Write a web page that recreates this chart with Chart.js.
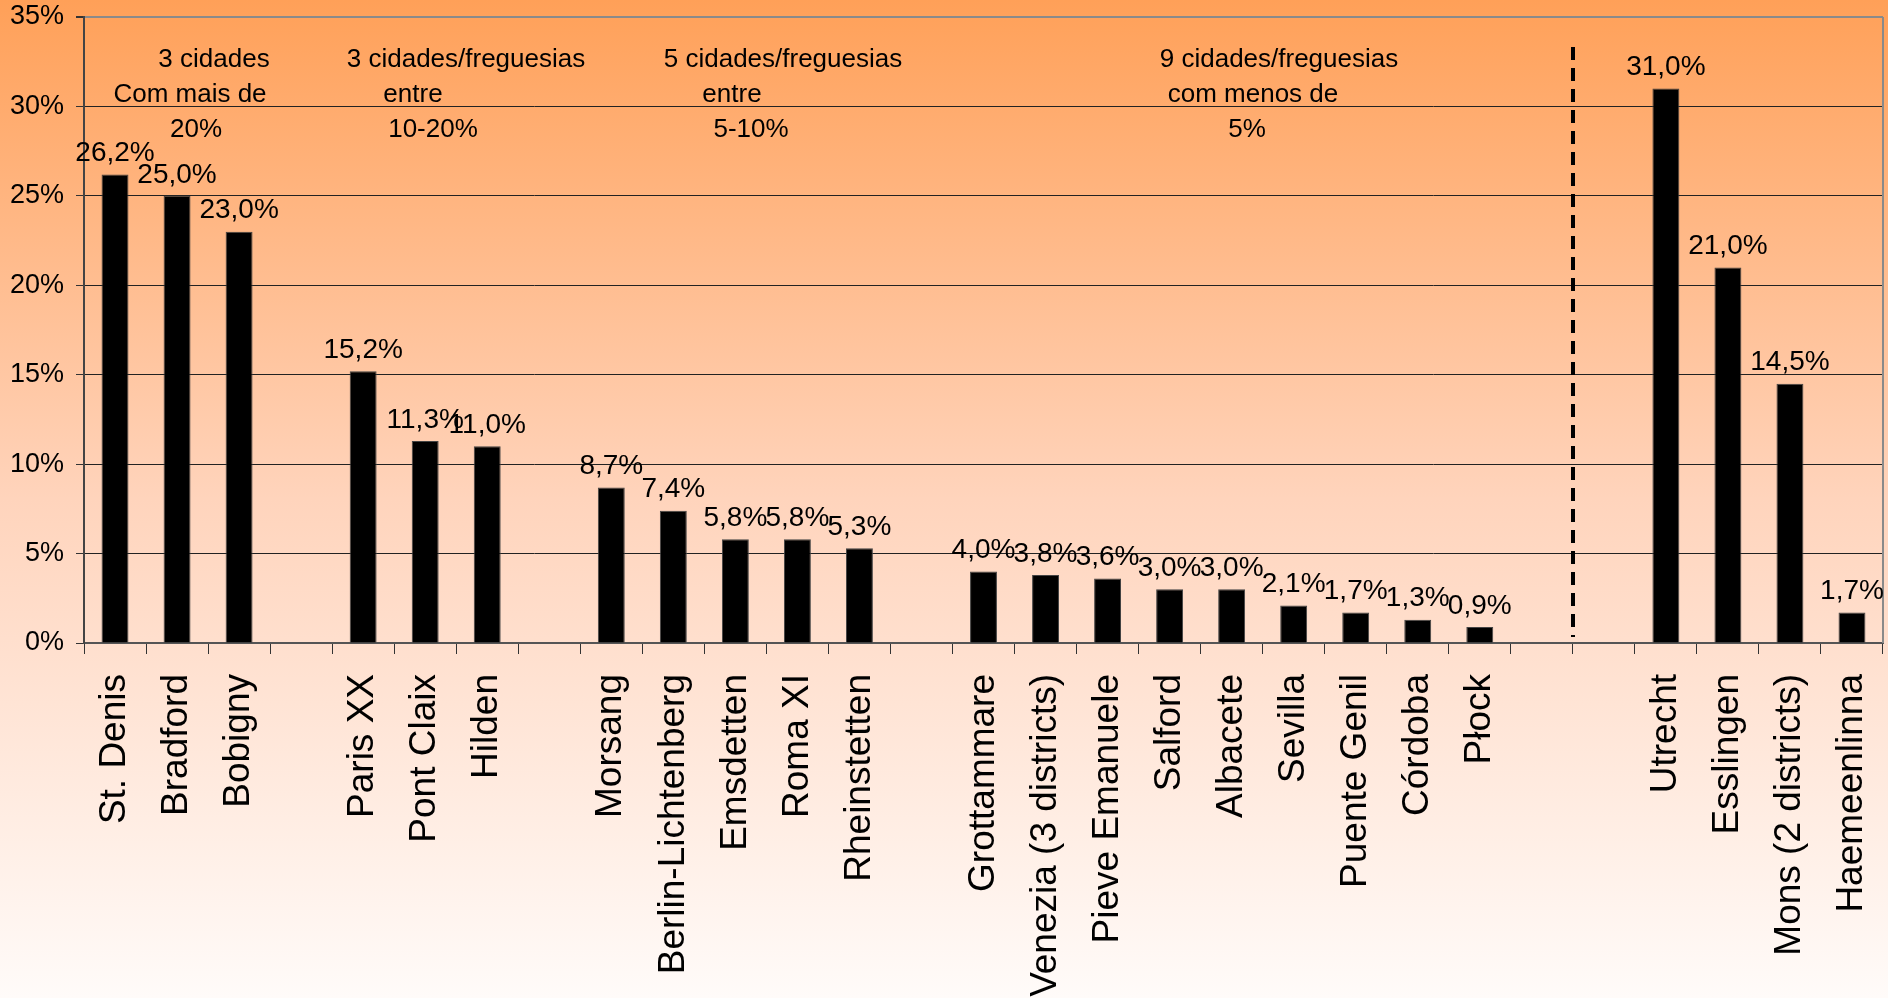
<!DOCTYPE html>
<html>
<head>
<meta charset="utf-8">
<title>Cidades / freguesias</title>
<script src="https://cdn.jsdelivr.net/npm/chart.js@4"></script>
<style>
  html, body { margin: 0; padding: 0; background: #fff; }
  #wrap { width: 1888px; height: 998px; position: relative; }
</style>
</head>
<body>
<div id="wrap"><canvas id="chart"></canvas></div>
<script>
// Data
const categories = ['St. Denis', 'Bradford', 'Bobigny', '', 'Paris XX', 'Pont Claix', 'Hilden', '',
  'Morsang', 'Berlin-Lichtenberg', 'Emsdetten', 'Roma XI', 'Rheinstetten', '',
  'Grottammare', 'Venezia (3 districts)', 'Pieve Emanuele', 'Salford', 'Albacete', 'Sevilla',
  'Puente Genil', 'Córdoba', 'Płock', '', '',
  'Utrecht', 'Esslingen', 'Mons (2 districts)', 'Haemeenlinna'];
const shares = [26.2, 25.0, 23.0, null, 15.2, 11.3, 11.0, null,
  8.7, 7.4, 5.8, 5.8, 5.3, null,
  4.0, 3.8, 3.6, 3.0, 3.0, 2.1, 1.7, 1.3, 0.9, null, null,
  31.0, 21.0, 14.5, 1.7];
const yMax = 35;
const yStep = 5;
const groupNotes = [
  ['3 cidades', 'Com mais de', '20%'],
  ['3 cidades/freguesias', 'entre', '10-20%'],
  ['5 cidades/freguesias', 'entre', '5-10%'],
  ['9 cidades/freguesias', 'com menos de', '5%']
];
// the dashed separator sits between these two (empty) categories
const separatorAfter = 23;

const FONT = "'Liberation Sans', Arial, Helvetica, sans-serif";

function fmt(v) {
  return v.toFixed(1).replace('.', ',') + '%';
}

// gradient background over the whole canvas
const backdrop = {
  id: 'backdrop',
  beforeDraw(chart) {
    const ctx = chart.ctx;
    const g = ctx.createLinearGradient(0, 0, 0, chart.height);
    g.addColorStop(0, 'rgb(255,160,88)');
    g.addColorStop(0.5, 'rgb(255,212,188)');
    g.addColorStop(1, 'rgb(255,251,249)');
    ctx.save();
    ctx.fillStyle = g;
    ctx.fillRect(0, 0, chart.width, chart.height);
    ctx.restore();
  }
};

// value labels, group notes, separator and right border
const extras = {
  id: 'extras',
  afterDatasetsDraw(chart) {
    const ctx = chart.ctx;
    const meta = chart.getDatasetMeta(0);
    const area = chart.chartArea;
    const x = chart.scales.x;
    ctx.save();

    // right border of plot area
    ctx.strokeStyle = '#8a8a8a';
    ctx.lineWidth = 2;
    ctx.beginPath();
    ctx.moveTo(area.right, area.top);
    ctx.lineTo(area.right, area.bottom);
    ctx.stroke();

    // dashed separator
    const sx = Math.round((x.getPixelForValue(separatorAfter) + x.getPixelForValue(separatorAfter + 1)) / 2);
    ctx.strokeStyle = '#000';
    ctx.lineWidth = 4;
    ctx.setLineDash([13, 8]);
    ctx.beginPath();
    ctx.moveTo(sx, area.top + 30);
    ctx.lineTo(sx, area.bottom - 6);
    ctx.stroke();
    ctx.setLineDash([]);

    // value labels
    ctx.fillStyle = '#000';
    ctx.font = '28px ' + FONT;
    ctx.textAlign = 'center';
    ctx.textBaseline = 'bottom';
    meta.data.forEach(function (bar, i) {
      const v = shares[i];
      if (v === null) return;
      ctx.fillText(fmt(v), bar.x, bar.y - 7);
    });

    // group notes
    const noteX = [[214, 190, 196], [466, 413, 433], [783, 732, 751], [1279, 1253, 1247]];
    const lineY = [60, 95, 130];
    ctx.font = '26px ' + FONT;
    ctx.textBaseline = 'middle';
    groupNotes.forEach(function (lines, g) {
      lines.forEach(function (txt, j) {
        ctx.fillText(txt, noteX[g][j], lineY[j]);
      });
    });
    ctx.restore();
  }
};

const ctx = document.getElementById('chart').getContext('2d');
const chart = new Chart(ctx, {
  type: 'bar',
  data: {
    labels: categories,
    datasets: [{
      data: shares,
      backgroundColor: '#000',
      borderColor: '#444',
      borderWidth: 1,
      categoryPercentage: 1,
      barPercentage: 0.434
    }]
  },
  options: {
    responsive: true,
    maintainAspectRatio: false,
    animation: false,
    layout: { padding: { top: 17, right: 5, left: 0, bottom: 0 } },
    plugins: {
      legend: { display: false },
      tooltip: { enabled: false }
    },
    scales: {
      x: {
        afterFit: function (scale) {
          scale.height = 355;
          scale.paddingLeft = 0;
          scale.paddingRight = 0;
        },
        grid: {
          drawOnChartArea: false,
          drawTicks: true,
          tickLength: 11,
          color: '#333',
          lineWidth: 1
        },
        border: { color: '#555', width: 2 },
        ticks: {
          autoSkip: false,
          minRotation: 90,
          maxRotation: 90,
          padding: 20,
          color: '#000',
          font: { family: FONT, size: 37 }
        }
      },
      y: {
        min: 0,
        max: yMax,
        afterFit: function (scale) {
          scale.width = 84;
          scale.paddingTop = 0;
          scale.paddingBottom = 0;
        },
        grid: {
          color: function (c) { return c.tick && c.tick.value === yMax ? '#8a8a8a' : '#222'; },
          lineWidth: function (c) { return c.tick && c.tick.value === yMax ? 2 : 1; },
          tickLength: 8,
          tickColor: '#333'
        },
        border: { color: '#444', width: 2 },
        ticks: {
          stepSize: yStep,
          padding: 12,
          color: '#000',
          font: { family: FONT, size: 27 },
          callback: function (v) { return v + '%'; }
        }
      }
    }
  },
  plugins: [backdrop, extras]
});
</script>
</body>
</html>
